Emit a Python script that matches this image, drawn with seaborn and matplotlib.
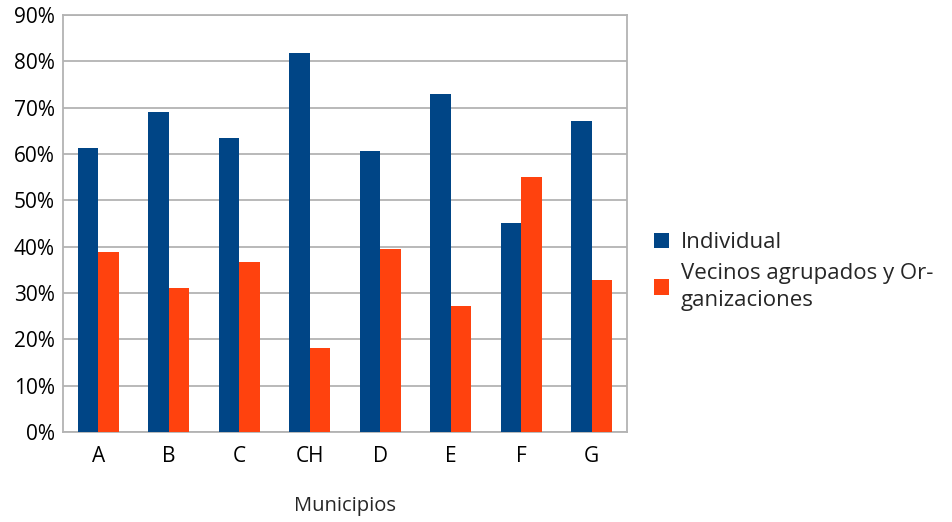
import pandas as pd
import matplotlib.pyplot as plt
import seaborn as sns
from matplotlib.ticker import PercentFormatter

# data (percent)
municipios = ["A", "B", "C", "CH", "D", "E", "F", "G"]
individual = [61.2, 69.0, 63.4, 81.9, 60.6, 72.9, 45.0, 67.2]
vecinos = [38.8, 31.0, 36.6, 18.1, 39.4, 27.1, 55.0, 32.8]
series = ["Individual", "Vecinos agrupados y Or-\nganizaciones"]
colores = ["#004586", "#ff420e"]

df = pd.DataFrame({
    "Municipios": municipios * 2,
    "valor": individual + vecinos,
    "serie": [series[0]] * len(municipios) + [series[1]] * len(municipios),
})

sns.set_style("white")
plt.rcParams["font.family"] = ["Open Sans", "DejaVu Sans"]

fig = plt.figure(figsize=(9.53, 5.22), dpi=100)
ax = fig.add_axes([63 / 953, 90 / 522, 564 / 953, 417 / 522])

sns.barplot(data=df, x="Municipios", y="valor", hue="serie",
            palette=colores, width=0.58, saturation=1, linewidth=0,
            ax=ax, zorder=3)

ax.set_ylim(0, 90)
ax.set_yticks(range(0, 91, 10))
ax.yaxis.set_major_formatter(PercentFormatter(decimals=0))
ax.grid(axis="y", color="#b3b3b3", linewidth=1.3, zorder=0)
ax.set_axisbelow(True)
for s in ax.spines.values():
    s.set_color("#b3b3b3")
    s.set_linewidth(1.3)
ax.tick_params(axis="y", labelsize=15, length=0, pad=6, colors="#000000")
ax.tick_params(axis="x", labelsize=15, length=0, pad=10, colors="#000000")
ax.set_ylabel("")
ax.set_xlabel("Municipios", fontsize=14.5, labelpad=21)

leg = ax.legend(loc="center left", bbox_to_anchor=(1.028, 0.385), frameon=False,
                fontsize=16, handlelength=0.7, handleheight=0.7, borderpad=0,
                handletextpad=0.5, labelspacing=0.45)
for t in leg.get_texts():
    t.set_linespacing(1.35)

fig.savefig("out.png", dpi=100)
